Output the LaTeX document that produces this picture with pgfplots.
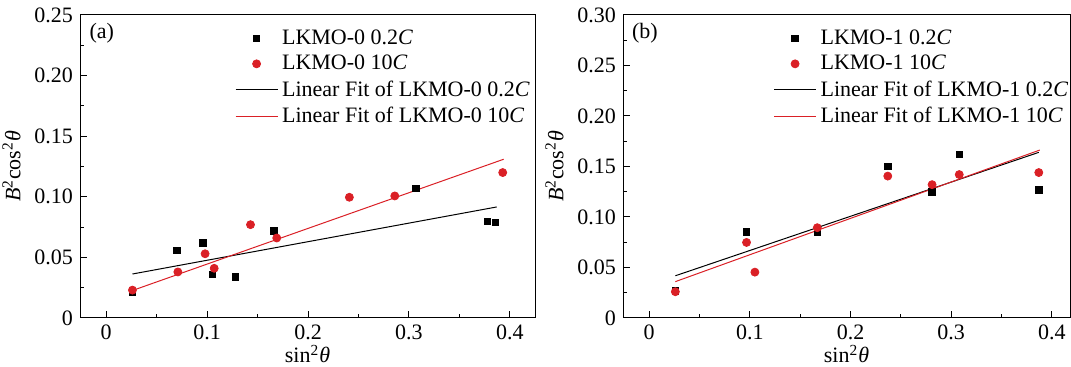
\documentclass[border=0pt]{standalone}
\usepackage{fontspec}
\setmainfont{Liberation Serif}
\usepackage{pgfplots}
\pgfplotsset{compat=1.18}
\definecolor{myred}{RGB}{218,32,38}
\pgfplotsset{
  myaxis/.style={
    scale only axis, height=151.5pt, anchor=south west,
    tick pos=left, tick align=inside,
    major tick length=3.5pt, minor tick length=2pt,
    axis line style={line width=0.5pt},
    every tick/.style={black, line width=0.5pt},
    xmin=-0.026,
    xtick={0,0.1,0.2,0.3,0.4}, xticklabels={0,0.1,0.2,0.3,0.4},
    minor x tick num=1, minor y tick num=1,
    ymin=0,
    tick label style={font=\fontsize{11}{13}\selectfont},
    label style={font=\fontsize{11}{13}\selectfont},
    xlabel={sin\textsuperscript{2}\textit{θ}},
    xlabel style={at={(axis description cs:0.5,0)}, anchor=base, yshift=-22.5pt},
    ylabel={\textit{B}\textsuperscript{2}cos\textsuperscript{2}\textit{θ}},
    legend cell align=left,
    legend style={draw=none, fill=none, font=\fontsize{11}{13}\selectfont, row sep=0pt, inner sep=0pt},
    legend image code/.code={\draw[mark repeat=2,mark phase=2] plot coordinates {(0pt,0pt) (10.5pt,0pt) (21pt,0pt)};},
  },
  sq/.style={only marks, mark=square*, mark size=1.6pt, black},
  ci/.style={only marks, mark=*, mark size=2pt, color=myred, mark options={fill=myred, draw=myred}},
}
\begin{document}
\begin{tikzpicture}
\begin{axis}[myaxis, at={(40pt,24.5pt)}, width=227.5pt, xmax=0.425, ymax=0.25,
  ytick={0,0.05,0.1,0.15,0.2,0.25}, yticklabels={0,0.05,0.10,0.15,0.20,0.25},
  legend style={at={(axis description cs:0.34,0.967)}, anchor=north west}]
\addplot[black, line width=0.5pt, forget plot] coordinates {(0.026,0.0363) (0.387,0.0916)};
\addplot[myred, line width=0.5pt, forget plot] coordinates {(0.026,0.0227) (0.394,0.131)};
\addplot[sq] coordinates {(0.026,0.021) (0.070,0.056) (0.096,0.062) (0.105,0.036) (0.128,0.034) (0.166,0.072) (0.307,0.107) (0.378,0.0795) (0.386,0.079)};
\addplot[ci] coordinates {(0.026,0.023) (0.071,0.038) (0.098,0.053) (0.107,0.041) (0.143,0.077) (0.169,0.066) (0.241,0.0996) (0.286,0.1007) (0.393,0.120)};
\addlegendimage{black, line width=0.5pt}
\addlegendimage{myred, line width=0.5pt}
\legend{LKMO-0 0.2\textit{C}, LKMO-0 10\textit{C}, Linear Fit of LKMO-0 0.2\textit{C}, Linear Fit of LKMO-0 10\textit{C}}
\node[font=\fontsize{11}{13}\selectfont] at (axis description cs:0.048,0.94) {(a)};
\end{axis}
\begin{axis}[myaxis, at={(311.5pt,24.5pt)}, width=223.5pt, xmax=0.418, ymax=0.30,
  ytick={0,0.05,0.1,0.15,0.2,0.25,0.3}, yticklabels={0,0.05,0.10,0.15,0.20,0.25,0.30},
  legend style={at={(axis description cs:0.336,0.967)}, anchor=north west}]
\addplot[black, line width=0.5pt, forget plot] coordinates {(0.026,0.0418) (0.387,0.164)};
\addplot[myred, line width=0.5pt, forget plot] coordinates {(0.026,0.036) (0.388,0.1663)};
\addplot[sq] coordinates {(0.026,0.027) (0.0967,0.0854) (0.167,0.085) (0.237,0.150) (0.281,0.125) (0.308,0.162) (0.387,0.127)};
\addplot[ci] coordinates {(0.026,0.026) (0.0967,0.0748) (0.105,0.0454) (0.167,0.0894) (0.237,0.1405) (0.281,0.132) (0.308,0.142) (0.387,0.144)};
\addlegendimage{black, line width=0.5pt}
\addlegendimage{myred, line width=0.5pt}
\legend{LKMO-1 0.2\textit{C}, LKMO-1 10\textit{C}, Linear Fit of LKMO-1 0.2\textit{C}, Linear Fit of LKMO-1 10\textit{C}}
\node[font=\fontsize{11}{13}\selectfont] at (axis description cs:0.049,0.94) {(b)};
\end{axis}
\pgfresetboundingbox
\path[use as bounding box] (0,0) rectangle (535.5pt,183.5pt);
\end{tikzpicture}
\end{document}
